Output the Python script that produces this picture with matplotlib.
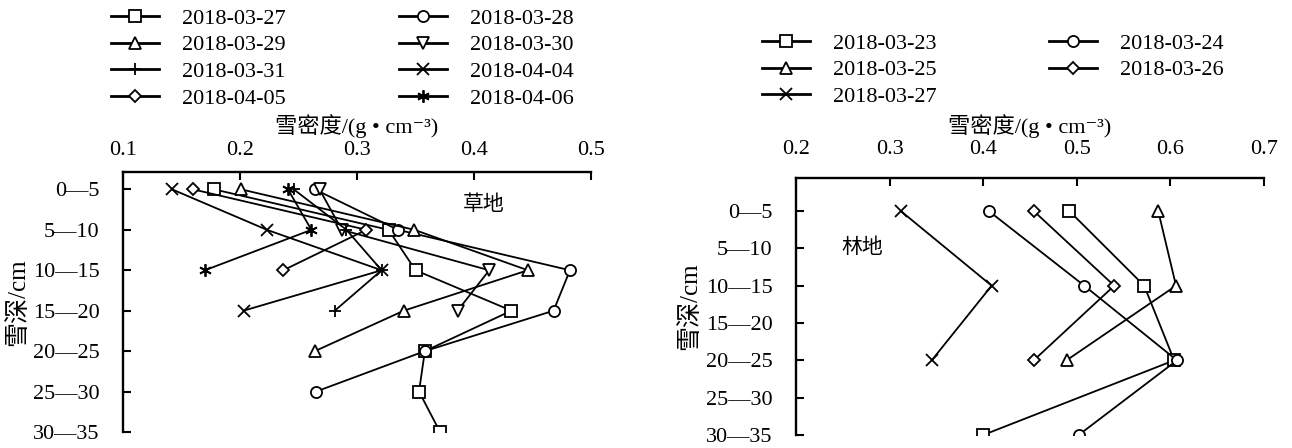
import numpy as np
import matplotlib.pyplot as plt

plt.rcParams['font.family'] = ['Liberation Serif', 'Noto Sans CJK SC', 'DejaVu Sans']
plt.rcParams['font.size'] = 16

depth_labels = ['0—5', '5—10', '10—15', '15—20', '20—25', '25—30', '30—35']

# 草地: 每个日期一列密度, 按雪层 0—5 往下
grass_dates = ['2018-03-27', '2018-03-28', '2018-03-29', '2018-03-30',
               '2018-03-31', '2018-04-04', '2018-04-05', '2018-04-06']
grass_0327 = [0.178, 0.327, 0.350, 0.432, 0.358, 0.353, 0.371]
grass_0328 = [0.264, 0.335, 0.482, 0.468, 0.358, 0.265]
grass_0329 = [0.201, 0.349, 0.446, 0.340, 0.264]
grass_0330 = [0.268, 0.287, 0.413, 0.386]
grass_0331 = [0.246, 0.291, 0.321, 0.281]
grass_0404 = [0.142, 0.223, 0.321, 0.203]
grass_0405 = [0.160, 0.308, 0.237]
grass_0406 = [0.241, 0.261, 0.170]
grass_density = [grass_0327, grass_0328, grass_0329, grass_0330,
                 grass_0331, grass_0404, grass_0405, grass_0406]
grass_markers = ['s', 'o', '^', 'v', '+', 'x', 'D', (6, 2, 0)]

# 林地: 只测了 0—5, 10—15, 20—25, 30—35
forest_dates = ['2018-03-23', '2018-03-24', '2018-03-25', '2018-03-26', '2018-03-27']
forest_layer = [[0, 2, 4, 6], [0, 2, 4, 6], [0, 2, 4], [0, 2, 4], [0, 2, 4]]
forest_0323 = [0.492, 0.572, 0.604, 0.400]
forest_0324 = [0.406, 0.508, 0.607, 0.502]
forest_0325 = [0.587, 0.606, 0.489]
forest_0326 = [0.454, 0.540, 0.454]
forest_0327 = [0.312, 0.409, 0.345]
forest_density = [forest_0323, forest_0324, forest_0325, forest_0326, forest_0327]
forest_markers = ['s', 'o', '^', 'D', 'x']

W, H = 1292, 448
fig = plt.figure(figsize=(W / 100, H / 100), dpi=100)


def px_axes(l, t, r, b):
    return fig.add_axes([l / W, 1 - b / H, (r - l) / W, (b - t) / H])


def msize(m):
    if m == 'D':
        return 6.5
    if m in ('+', 'x', (6, 2, 0)):
        return 9
    return 8


def style_axes(ax, xlim, xticks, ytop, xpad):
    ax.set_xlim(*xlim)
    ax.set_ylim(6, ytop)
    ax.set_xticks(xticks)
    ax.set_xticklabels(['%.1f' % v for v in xticks])
    ax.set_yticks(range(len(depth_labels)))
    ax.set_yticklabels(depth_labels)
    ax.xaxis.tick_top()
    ax.xaxis.set_label_position('top')
    ax.spines['right'].set_visible(False)
    ax.spines['bottom'].set_visible(False)
    for s in ('left', 'top'):
        ax.spines[s].set_linewidth(1.7)
    ax.tick_params(axis='x', direction='in', length=5.5, width=1.5, pad=xpad)
    ax.tick_params(axis='y', direction='in', length=5.5, width=1.5, pad=17)
    ax.set_xlabel('雪密度/(g • cm⁻³)', fontsize=16)
    ax.set_ylabel('雪深/cm', fontsize=18)


# 左图 草地
ax1 = px_axes(123, 172, 591, 432)
lines1 = []
for d, vals, m in zip(grass_dates, grass_density, grass_markers):
    ln, = ax1.plot(vals, range(len(vals)), color='black', lw=1.3,
                   marker=m, ms=msize(m), mfc='white', mec='black', mew=1.3, label=d)
    lines1.append(ln)
style_axes(ax1, (0.1, 0.5), [0.1, 0.2, 0.3, 0.4, 0.5], -0.43, 8.5)
ax1.xaxis.set_label_coords(0.5, 1.15)
ax1.yaxis.set_label_coords(-0.20, 0.5)
ax1.text(0.4085, 0.38, '草地', fontsize=15, ha='center', va='center')

# 右图 林地
ax2 = px_axes(796, 178, 1264, 435)
lines2 = []
for d, layer, vals, m in zip(forest_dates, forest_layer, forest_density, forest_markers):
    ln, = ax2.plot(vals, layer, color='black', lw=1.3,
                   marker=m, ms=msize(m), mfc='white', mec='black', mew=1.3, label=d)
    lines2.append(ln)
style_axes(ax2, (0.2, 0.7), [0.2, 0.3, 0.4, 0.5, 0.6, 0.7], -0.885, 14)
ax2.xaxis.set_label_coords(0.5, 1.175)
ax2.yaxis.set_label_coords(-0.203, 0.5)
ax2.text(0.271, 1.0, '林地', fontsize=15, ha='center', va='center')

# 图例按行排列
order1 = [0, 2, 4, 6, 1, 3, 5, 7]
leg1 = fig.legend([lines1[i] for i in order1], [grass_dates[i] for i in order1],
                  ncol=2, frameon=False, loc='upper left',
                  bbox_to_anchor=(111 / W, 1 - 8 / H), borderpad=0, borderaxespad=0,
                  handlelength=2.16, handletextpad=1.04, columnspacing=5.1,
                  labelspacing=0.28, fontsize=16)
order2 = [0, 2, 4, 1, 3]
leg2 = fig.legend([lines2[i] for i in order2], [forest_dates[i] for i in order2],
                  ncol=2, frameon=False, loc='upper left',
                  bbox_to_anchor=(762 / W, 1 - 33 / H), borderpad=0, borderaxespad=0,
                  handlelength=2.16, handletextpad=1.04, columnspacing=5.05,
                  labelspacing=0.28, fontsize=16)
for leg in (leg1, leg2):
    for ln in leg.get_lines():
        ln.set_linewidth(2.0)

fig.savefig('out.png', dpi=100)
